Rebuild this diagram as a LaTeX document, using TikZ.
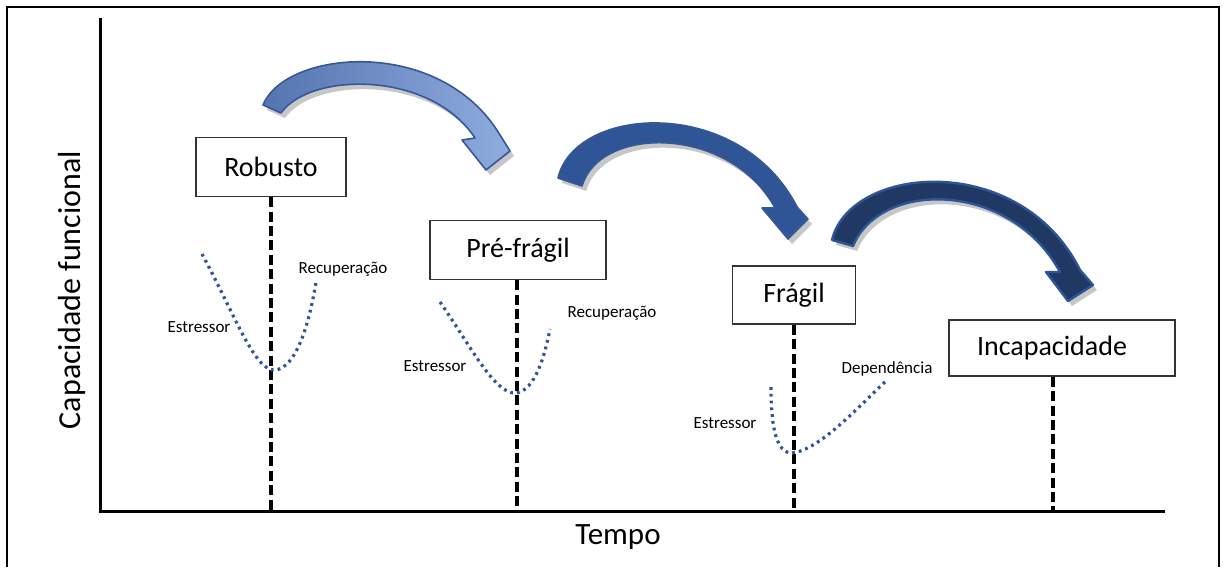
\documentclass[tikz,border=0pt]{standalone}
\usepackage{fontspec}
\setmainfont{Carlito}
\usepackage{xcolor}
\usetikzlibrary{arrows.meta, positioning, calc, shadows}
\definecolor{dotblue}{RGB}{47, 85, 151}
\definecolor{arrowlight}{RGB}{143, 172, 222}
\definecolor{arrowtail}{RGB}{84, 116, 176}
\definecolor{arrowmid}{RGB}{47, 85, 151}
\definecolor{arrowdark}{RGB}{31, 56, 100}
\definecolor{arrowedge}{RGB}{55, 88, 150}

\tikzset{
  stagebox/.style={draw=black!80, line width=0.7pt, fill=white, inner sep=0pt,
    font=\fontsize{14}{16}\selectfont},
  dropline/.style={line width=1.6pt, dash pattern=on 5pt off 2.2pt},
  axisline/.style={line width=1.5pt},
  curveline/.style={dotblue, line width=1.6pt, dash pattern=on 1.4pt off 2pt},
  smalllabel/.style={font=\fontsize{8.5}{10}\selectfont},
  bigarrow/.style={line width=0.8pt, line join=round,
    drop shadow={shadow xshift=2pt, shadow yshift=-2.5pt, opacity=0.22, fill=black}},
}

\begin{document}
\begin{tikzpicture}[x=0.5pt, y=-0.5pt]
  \useasboundingbox (0,0) rectangle (1224,567);

  % ── Frame ─────────────────────────────────────────────────────────────────
  \draw[line width=0.7pt] (7,567) -- (7,7) -- (1219,7) -- (1219,567);

  % ── Axes ──────────────────────────────────────────────────────────────────
  \coordinate (origin) at (100,511);
  \coordinate (ytop)   at (100,18);
  \coordinate (xend)   at (1165,511);
  \draw[axisline] (ytop) -- (origin) -- (xend);
  \node[rotate=90, font=\fontsize{16}{18}\selectfont] (ylabel) at (72,290)
    {Capacidade funcional};
  \node[font=\fontsize{15.5}{18}\selectfont] (xlabel) at (618,537) {Tempo};

  % ── Stage boxes ───────────────────────────────────────────────────────────
  \node[stagebox, minimum width=75pt,   minimum height=29.5pt] (rob) at (271,167) {Robusto};
  \node[stagebox, minimum width=88pt,   minimum height=29.5pt] (pre) at (518,250) {Pré-frágil};
  \node[stagebox, minimum width=61.5pt, minimum height=29pt]   (fra) at (794,295) {Frágil};
  \node[stagebox, minimum width=113pt,  minimum height=28pt]   (inc) at (1062,348)
    {\hspace*{-10pt}Incapacidade};

  % ── Drop lines to the time axis ───────────────────────────────────────────
  \coordinate (rob-t) at (271,511);
  \coordinate (pre-t) at (517,511);
  \coordinate (fra-t) at (794,511);
  \coordinate (inc-t) at (1053,511);
  \foreach \st in {rob, pre, fra, inc} {
    \draw[dropline] (\st.south -| \st-t) -- (\st-t);
  }

  % ── Stress / recovery curves ──────────────────────────────────────────────
  \draw[curveline] (202,254) .. controls (235,315) and (255,372) .. (275,370)
    .. controls (296,368) and (309,325) .. (316,282);
  \draw[curveline] (440,302) .. controls (470,345) and (495,395) .. (516,393)
    .. controls (535,391) and (545,355) .. (550,329);
  \draw[curveline] (771,387) .. controls (771,430) and (777,453) .. (792,453)
    .. controls (820,450) and (860,405) .. (885,382);

  \node[smalllabel] (rob-s) at (199,327) {Estressor};
  \node[smalllabel] (rob-r) at (343,269) {Recuperação};
  \node[smalllabel] (pre-s) at (435,366) {Estressor};
  \node[smalllabel] (pre-r) at (612,313) {Recuperação};
  \node[smalllabel] (fra-s) at (725,423) {Estressor};
  \node[smalllabel] (fra-d) at (887,369) {Dependência};

  % ── Curved transition arrows ──────────────────────────────────────────────
  \path[bigarrow, draw=arrowedge, left color=arrowtail, right color=arrowlight]
    (263,105) .. controls (285,50) and (440,35) .. (500,135)
    -- (510,151) -- (486,170) -- (462,140) -- (475,138)
    .. controls (430,70) and (310,72) .. (281,113) -- cycle;
  \path[bigarrow, draw=arrowedge, fill=arrowmid]
    (558,178) .. controls (575,105) and (740,95) .. (797,207)
    -- (808,219) -- (788,239) -- (762,208) -- (775,208)
    .. controls (730,125) and (600,125) .. (582,186) -- cycle;
  \path[bigarrow, draw=arrowmid, line width=1.2pt, fill=arrowdark]
    (832,240) .. controls (850,165) and (1020,150) .. (1080,270)
    -- (1093,285) -- (1068,301) -- (1046,272) -- (1060,272)
    .. controls (1010,180) and (880,180) .. (853,246) -- cycle;
\end{tikzpicture}
\end{document}
